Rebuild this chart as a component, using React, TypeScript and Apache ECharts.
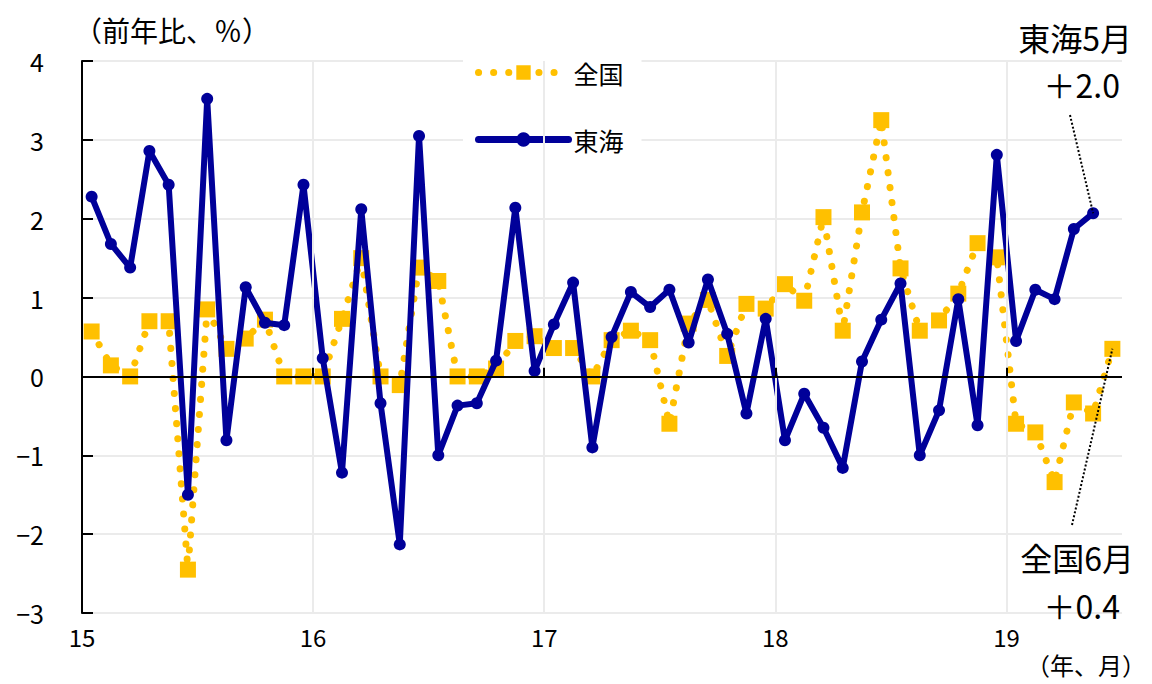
import React, { useEffect, useRef } from "react";
import * as echarts from "echarts";

const FONT = '"Noto Sans CJK JP", "Noto Sans", sans-serif';
const YELLOW = "#FFC000";
const NAVY = "#000099";

// x-axis year labels (one per 12 months, starting Jan 2015)
const yearLabels = ["15", "16", "17", "18", "19"];
const yTicks = { min: -3, max: 4, interval: 1 };

// 全国: 2015/1 .. 2019/6 (YoY %)
const zenkoku = [
  0.57, 0.14, 0.0, 0.7, 0.7, -2.45, 0.85, 0.35, 0.48, 0.72, 0.0, 0.0,
  0.0, 0.73, 1.5, 0.0, -0.11, 1.38, 1.21, 0.0, 0.0, 0.1, 0.45, 0.51,
  0.36, 0.36, 0.0, 0.46, 0.58, 0.46, -0.6, 0.67, 0.97, 0.26, 0.92, 0.86,
  1.17, 0.96, 2.02, 0.58, 2.08, 3.25, 1.37, 0.58, 0.71, 1.05, 1.69, 1.51,
  -0.6, -0.71, -1.34, -0.33, -0.47, 0.35,
];

// 東海: 2015/1 .. 2019/5 (YoY %)
const tokai = [
  2.28, 1.68, 1.38, 2.86, 2.43, -1.5, 3.52, -0.81, 1.13, 0.68, 0.65, 2.43,
  0.23, -1.22, 2.12, -0.34, -2.13, 3.05, -1.0, -0.37, -0.34, 0.2, 2.14, 0.07,
  0.66, 1.19, -0.9, 0.5, 1.07, 0.88, 1.1, 0.43, 1.23, 0.54, -0.47, 0.73,
  -0.81, -0.22, -0.65, -1.16, 0.19, 0.72, 1.18, -1.0, -0.43, 0.98, -0.62, 2.81,
  0.45, 1.1, 0.98, 1.87, 2.07,
];

const TOTAL_MONTHS = 54;

export default function App() {
  const ref = useRef<HTMLDivElement>(null);

  useEffect(() => {
    if (!ref.current) return;
    const chart = echarts.init(ref.current, null, { renderer: "svg" });

    const yearBounds = yearLabels.slice(1).map((_, k) => (k + 1) * 12);
    const gridLight = { color: "#ebebeb", width: 2, type: "solid" as const };
    const blackLine = { color: "#000", width: 2, type: "solid" as const };

    const markData: any[] = [];
    yearBounds.forEach((b) => markData.push({ xAxis: b, lineStyle: gridLight }));
    markData.push({ yAxis: 0, lineStyle: blackLine });
    yearBounds.forEach((b) =>
      markData.push([
        { coord: [b, 0], lineStyle: blackLine },
        { coord: [b, 0.11] },
      ])
    );

    const option: any = {
      animation: false,
      textStyle: { fontFamily: FONT },
      grid: { left: 82, right: 30, top: 61, bottom: 71 },
      xAxis: {
        type: "value",
        min: 0,
        max: TOTAL_MONTHS,
        interval: 12,
        axisLine: { show: false, onZero: false },
        axisTick: { show: false },
        splitLine: { show: false },
        axisLabel: {
          fontSize: 24,
          color: "#000",
          margin: 11,
          fontFamily: FONT,
          formatter: (v: number) =>
            v % 12 === 0 && yearLabels[v / 12] !== undefined ? yearLabels[v / 12] : "",
        },
      },
      yAxis: {
        type: "value",
        min: yTicks.min,
        max: yTicks.max,
        interval: yTicks.interval,
        axisLine: { show: true, onZero: false, lineStyle: { color: "#000", width: 2 } },
        axisTick: { show: true, inside: true, length: 11, lineStyle: { color: "#000", width: 2 } },
        axisLabel: {
          fontSize: 25,
          color: "#000",
          margin: 38,
          fontFamily: FONT,
          formatter: (v: number) => (v < 0 ? "\u2212" + Math.abs(v) : String(v)),
        },
        splitLine: { show: true, lineStyle: gridLight },
      },
      legend: {
        data: [
          { name: "全国", lineStyle: { width: 7, type: [0.1, 15], cap: "round" } },
          { name: "東海", lineStyle: { width: 7 } },
        ],
        orient: "vertical",
        left: 463,
        top: 48,
        itemWidth: 90,
        itemHeight: 18,
        itemGap: 42,
        padding: [12, 18, 16, 12],
        backgroundColor: "#fff",
        textStyle: { fontSize: 25, color: "#000", fontFamily: FONT },
        selectedMode: false,
      },
      series: [
        {
          type: "line",
          name: "_grid",
          data: [],
          silent: true,
          z: 1,
          markLine: {
            silent: true,
            symbol: "none",
            label: { show: false },
            animation: false,
            data: markData,
          },
        },
        {
          type: "line",
          name: "全国",
          data: zenkoku.map((v, i) => [i + 0.5, v]),
          symbol: "rect",
          symbolSize: 16,
          showAllSymbol: true,
          itemStyle: { color: YELLOW },
          lineStyle: { color: YELLOW, width: 7, type: [0.1, 15], cap: "round" },
          z: 3,
        },
        {
          type: "line",
          name: "東海",
          data: tokai.map((v, i) => [i + 0.5, v]),
          symbol: "circle",
          symbolSize: 12,
          showAllSymbol: true,
          itemStyle: { color: NAVY },
          lineStyle: { color: NAVY, width: 6, cap: "round", join: "round" },
          z: 4,
        },
      ],
    };

    chart.setOption(option);

    const lastT = tokai.length - 1;
    const lastZ = zenkoku.length - 1;
    const pT = chart.convertToPixel({ seriesIndex: 2 }, [lastT + 0.5, tokai[lastT]]) as number[];
    const pZ = chart.convertToPixel({ seriesIndex: 1 }, [lastZ + 0.5, zenkoku[lastZ]]) as number[];

    const txt = (text: string, x: number, y: number, size: number, align: string, vAlign = "middle") => ({
      type: "text",
      x,
      y,
      z: 10,
      style: { text, fill: "#000", fontSize: size, fontFamily: FONT, align, verticalAlign: vAlign },
    });

    chart.setOption({
      graphic: [
        txt("（前年比、％）", 74, 30, 28, "left"),
        txt("東海5月", 1132, 37, 32, "right"),
        txt("＋2.0", 1120, 84, 32, "right"),
        {
          type: "line",
          z: 10,
          shape: { x1: 1070, y1: 115, x2: pT[0], y2: pT[1] },
          style: { stroke: "#000", lineWidth: 2, lineDash: [2, 2] },
        },
        txt("全国6月", 1134, 557, 32, "right"),
        txt("＋0.4", 1120, 605, 32, "right"),
        {
          type: "line",
          z: 10,
          shape: { x1: 1072, y1: 525, x2: pZ[0], y2: pZ[1] },
          style: { stroke: "#000", lineWidth: 2, lineDash: [2, 2] },
        },
        txt("（年、月）", 1026, 664, 24, "left"),
      ],
    });

    return () => chart.dispose();
  }, []);

  return (
    <div
      ref={ref}
      style={{ position: "fixed", left: 0, top: 0, width: 1152, height: 684, background: "#fff" }}
    />
  );
}
